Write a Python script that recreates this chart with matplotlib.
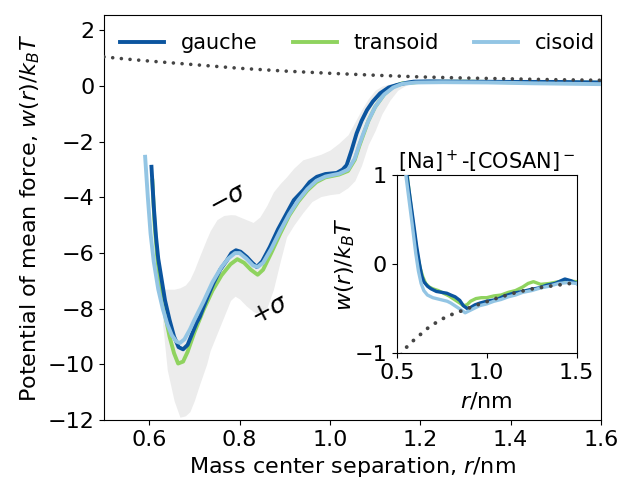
import matplotlib
matplotlib.use("Agg")
import matplotlib.pyplot as plt

# main panel: potential of mean force for the three conformers
r_gauche = [0.605, 0.610, 0.615, 0.620, 0.628, 0.635, 0.645, 0.655, 0.665, 0.675,
            0.685, 0.695, 0.705, 0.712, 0.720, 0.730, 0.742, 0.757, 0.772, 0.782,
            0.792, 0.802, 0.816, 0.828, 0.838, 0.850, 0.867, 0.885, 0.904, 0.920,
            0.941, 0.955, 0.971, 0.990, 1.015, 1.028, 1.037, 1.048, 1.059, 1.070,
            1.082, 1.095, 1.111, 1.130, 1.148, 1.170, 1.185, 1.220, 1.300, 1.400,
            1.500, 1.600]
w_gauche = [-2.90, -4.30, -5.40, -6.20, -7.00, -7.70, -8.40, -9.00, -9.38, -9.46,
            -9.30, -8.90, -8.50, -8.29, -7.95, -7.55, -7.09, -6.60, -6.26, -6.00,
            -5.90, -5.95, -6.14, -6.35, -6.50, -6.30, -5.78, -5.15, -4.58, -4.10,
            -3.74, -3.45, -3.26, -3.16, -3.12, -3.00, -2.84, -2.30, -1.70, -1.25,
            -0.86, -0.55, -0.26, -0.05, 0.04, 0.12, 0.16, 0.17, 0.16, 0.15,
            0.15, 0.13]

r_transoid = [0.607, 0.612, 0.618, 0.625, 0.635, 0.645, 0.655, 0.664, 0.675, 0.685,
              0.700, 0.720, 0.740, 0.760, 0.780, 0.795, 0.810, 0.825, 0.840, 0.852,
              0.870, 0.890, 0.910, 0.930, 0.950, 0.970, 0.990, 1.020, 1.040, 1.055,
              1.065, 1.075, 1.085, 1.100, 1.120, 1.140, 1.160, 1.200, 1.300, 1.400,
              1.500, 1.600]
w_transoid = [-3.40, -5.00, -6.20, -7.20, -8.20, -9.00, -9.60, -9.97, -9.90, -9.55,
              -8.85, -8.05, -7.35, -6.80, -6.40, -6.22, -6.35, -6.60, -6.78, -6.60,
              -6.00, -5.30, -4.65, -4.15, -3.75, -3.45, -3.28, -3.18, -3.05, -2.65,
              -2.15, -1.70, -1.25, -0.75, -0.30, -0.02, 0.10, 0.15, 0.16, 0.14,
              0.13, 0.12]

r_cisoid = [0.591, 0.597, 0.603, 0.610, 0.620, 0.630, 0.640, 0.650, 0.660, 0.668,
            0.678, 0.690, 0.700, 0.720, 0.740, 0.760, 0.775, 0.790, 0.800, 0.815,
            0.830, 0.840, 0.852, 0.870, 0.890, 0.910, 0.930, 0.950, 0.970, 0.990,
            1.020, 1.040, 1.055, 1.065, 1.074, 1.085, 1.100, 1.120, 1.140, 1.160,
            1.190, 1.250, 1.350, 1.450, 1.550, 1.600]
w_cisoid = [-2.54, -4.00, -5.30, -6.30, -7.30, -8.00, -8.55, -8.95, -9.18, -9.23,
            -9.10, -8.75, -8.40, -7.75, -7.05, -6.50, -6.20, -6.00, -6.00, -6.20,
            -6.45, -6.50, -6.35, -5.85, -5.20, -4.60, -4.10, -3.70, -3.40, -3.25,
            -3.15, -3.00, -2.60, -2.10, -1.70, -1.25, -0.75, -0.30, -0.05, 0.08,
            0.13, 0.14, 0.13, 0.10, 0.08, 0.07]

# spread of the conformer average (+/- sigma)
r_band = [0.630, 0.640, 0.655, 0.668, 0.680, 0.690, 0.700, 0.712, 0.727, 0.735,
          0.750, 0.765, 0.780, 0.790, 0.800, 0.815, 0.830, 0.845, 0.860, 0.875,
          0.890, 0.904, 0.920, 0.940, 0.960, 0.980, 1.000, 1.020, 1.040, 1.055,
          1.070, 1.085, 1.100, 1.115, 1.133, 1.150, 1.165, 1.180, 1.200]
w_band_hi = [-7.30, -7.30, -7.30, -7.25, -7.15, -6.95, -6.60, -6.10, -5.50, -5.20,
             -4.80, -4.65, -4.62, -4.63, -4.70, -4.80, -4.90, -4.70, -4.30, -3.80,
             -3.50, -3.26, -2.95, -2.65, -2.55, -2.45, -2.30, -2.05, -1.75, -1.30,
             -0.85, -0.45, -0.15, 0.00, 0.08, 0.10, 0.12, 0.13, 0.13]
w_band_lo = [-8.60, -10.20, -11.30, -11.90, -11.85, -11.70, -11.30, -10.70, -10.00, -9.50,
             -8.90, -8.30, -7.70, -7.55, -7.65, -7.90, -8.10, -8.20, -8.00, -7.30,
             -6.30, -5.42, -5.00, -4.55, -4.15, -3.97, -3.90, -3.86, -3.65, -3.40,
             -2.85, -2.10, -1.60, -1.00, -0.50, -0.15, 0.00, 0.10, 0.13]

# COSAN-COSAN reference curve
r_ref = [0.50, 0.55, 0.60, 0.70, 0.80, 0.90, 1.00, 1.10, 1.20, 1.30, 1.40, 1.50, 1.60]
w_ref = [1.05, 0.97, 0.90, 0.77, 0.64, 0.54, 0.46, 0.39, 0.33, 0.29, 0.26, 0.23, 0.21]

# inset: Na+ - COSAN-
ri_gauche = [0.550, 0.556, 0.575, 0.590, 0.610, 0.626, 0.638, 0.650, 0.670, 0.690,
             0.720, 0.750, 0.778, 0.800, 0.824, 0.850, 0.870, 0.890, 0.910, 0.935,
             0.963, 1.000, 1.056, 1.100, 1.148, 1.200, 1.240, 1.290, 1.333, 1.380,
             1.435, 1.470, 1.500]
wi_gauche = [1.15, 1.00, 0.72, 0.50, 0.20, 0.00, -0.13, -0.20, -0.25, -0.28,
             -0.31, -0.32, -0.33, -0.35, -0.37, -0.41, -0.47, -0.50, -0.49, -0.46,
             -0.44, -0.42, -0.40, -0.36, -0.33, -0.31, -0.29, -0.27, -0.24, -0.22,
             -0.17, -0.19, -0.22]

ri_transoid = [0.552, 0.560, 0.590, 0.610, 0.630, 0.645, 0.660, 0.680, 0.700, 0.730,
               0.760, 0.790, 0.820, 0.850, 0.870, 0.890, 0.910, 0.940, 0.970, 1.000,
               1.040, 1.080, 1.120, 1.160, 1.200, 1.230, 1.260, 1.300, 1.350, 1.400,
               1.450, 1.500]
wi_transoid = [1.15, 0.95, 0.45, 0.15, -0.05, -0.15, -0.22, -0.26, -0.28, -0.30,
               -0.33, -0.36, -0.40, -0.44, -0.47, -0.46, -0.42, -0.39, -0.38, -0.38,
               -0.36, -0.35, -0.32, -0.30, -0.26, -0.22, -0.20, -0.23, -0.22, -0.20,
               -0.19, -0.20]

ri_cisoid = [0.545, 0.550, 0.585, 0.605, 0.620, 0.635, 0.650, 0.670, 0.700, 0.740,
             0.780, 0.800, 0.830, 0.860, 0.880, 0.900, 0.930, 0.960, 1.000, 1.040,
             1.080, 1.120, 1.160, 1.200, 1.250, 1.300, 1.350, 1.400, 1.450, 1.500]
wi_cisoid = [1.15, 1.00, 0.45, 0.12, -0.08, -0.22, -0.30, -0.35, -0.38, -0.40,
             -0.42, -0.44, -0.48, -0.52, -0.55, -0.53, -0.50, -0.47, -0.45, -0.42,
             -0.40, -0.37, -0.35, -0.32, -0.30, -0.27, -0.25, -0.22, -0.21, -0.22]

ri_ref = [0.525, 0.537, 0.593, 0.685, 0.778, 0.870, 0.963, 1.056, 1.148, 1.240, 1.333, 1.500]
wi_ref = [-1.02, -0.97, -0.86, -0.70, -0.59, -0.52, -0.45, -0.386, -0.33, -0.285, -0.255, -0.21]

c_gauche = '#0b559f'
c_transoid = '#8fd35f'
c_cisoid = '#93c5e4'
c_dots = '#454545'
dots = (0, (0.01, 2.4))

plt.rcParams['font.size'] = 16

fig = plt.figure(figsize=(6.24, 4.82), dpi=100)
ax = fig.add_axes([0.1667, 0.1286, 0.7965, 0.840])

ax.fill_between(r_band, w_band_lo, w_band_hi, color='#ececec', lw=0, zorder=1)
ax.plot(r_gauche, w_gauche, color=c_gauche, lw=2.8, label='gauche', zorder=3)
ax.plot(r_transoid, w_transoid, color=c_transoid, lw=2.8, label='transoid', zorder=2)
ax.plot(r_cisoid, w_cisoid, color=c_cisoid, lw=2.8, label='cisoid', zorder=3)
ax.plot(r_ref, w_ref, color=c_dots, lw=2.6, ls=dots, dash_capstyle='round', zorder=4)

ax.text(0.775, -4.04, r'$-\sigma$', rotation=28, fontsize=18, ha='center', va='center')
ax.text(0.867, -8.05, r'$+\sigma$', rotation=28, fontsize=18, ha='center', va='center')

ax.set_xlim(0.5, 1.6)
ax.set_ylim(-12, 2.55)
ax.set_xticks([0.6, 0.8, 1.0, 1.2, 1.4, 1.6])
ax.set_yticks([-12, -10, -8, -6, -4, -2, 0, 2])
ax.set_xlabel('Mass center separation, $r$/nm')
ax.set_ylabel('Potential of mean force, $w(r)/k_BT$')
ax.legend(loc='upper center', bbox_to_anchor=(0.51, 1.0), ncol=3, frameon=False,
          fontsize=15, handlelength=2.1, columnspacing=1.7, borderaxespad=0.45)

ins = fig.add_axes([0.636, 0.268, 0.288, 0.369])
ins.plot(ri_gauche, wi_gauche, color=c_gauche, lw=2.4, zorder=3)
ins.plot(ri_transoid, wi_transoid, color=c_transoid, lw=2.4, zorder=2)
ins.plot(ri_cisoid, wi_cisoid, color=c_cisoid, lw=2.4, zorder=3)
ins.plot(ri_ref, wi_ref, color=c_dots, lw=2.8, ls=dots, dash_capstyle='round', zorder=4)
ins.set_xlim(0.5, 1.5)
ins.set_ylim(-1, 1)
ins.set_xticks([0.5, 1.0, 1.5])
ins.set_yticks([-1, 0, 1])
ins.set_xlabel('$r$/nm', labelpad=6)
ins.set_ylabel('$w(r)/k_BT$', labelpad=-2)
ins.set_title('[Na]$^+$-[COSAN]$^-$', fontsize=15, pad=3)

fig.savefig('out.png', dpi=100)
